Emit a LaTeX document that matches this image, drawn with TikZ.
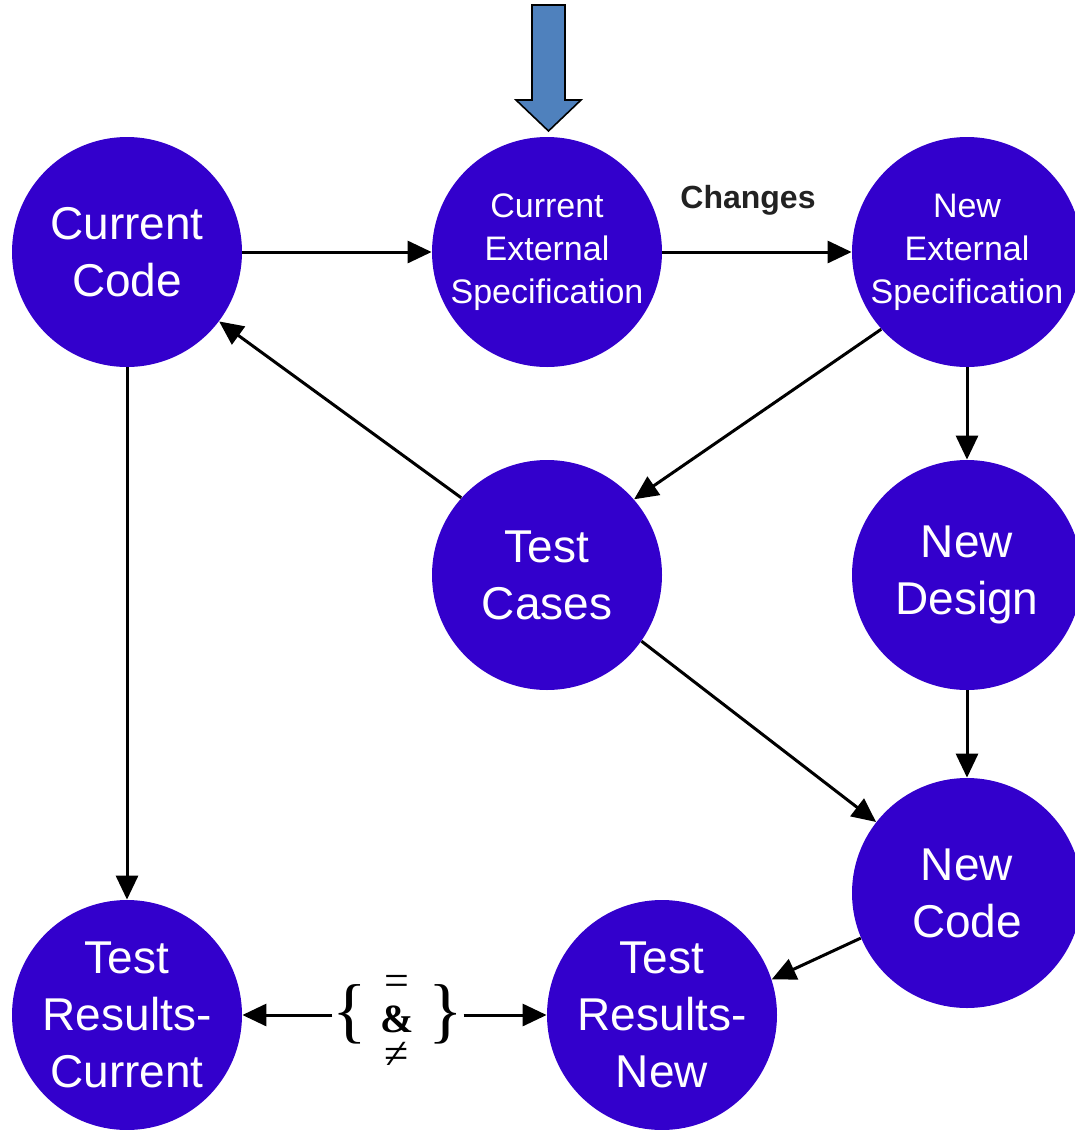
\documentclass[tikz,border=0pt]{standalone}
\usepackage{fontspec}
\setmainfont{Liberation Sans}
\newfontfamily\serifcmp{Liberation Serif}
\usetikzlibrary{arrows.meta}
\definecolor{circblue}{RGB}{51,0,204}
\definecolor{arrowblue}{RGB}{79,129,189}
\definecolor{labelgray}{RGB}{34,34,34}
\tikzset{
  bubble/.style={circle,fill=circblue,draw=none,inner sep=0pt,minimum size=115pt,
    text=white,align=center},
  bigtext/.style={font=\fontsize{23}{28.5}\selectfont},
  smalltext/.style={font=\fontsize{17}{21.5}\selectfont},
  conn/.style={line width=1.5pt,-{Triangle[length=12pt,width=11pt]}},
  bracenode/.style={inner sep=0pt,font=\serifcmp\fontsize{36}{36}\selectfont},
  symnode/.style={inner sep=0pt,font=\serifcmp\fontsize{22}{22}\selectfont},
}
\begin{document}
\begin{tikzpicture}[x=0.5pt,y=-0.5pt]
\useasboundingbox (0,0) rectangle (1075,1130);
\node[bubble,bigtext] (CC) at (127,252) {Current\\Code};
\node[bubble,smalltext] (CES) at (547,252) {Current\\External\\Specification};
\node[bubble,smalltext] (NES) at (967,252) {New\\External\\Specification};
\node[bubble,bigtext] (TC) at (547,575) {Test\\Cases};
\node[bubble,bigtext] (ND) at (967,575) {New\\Design};
\node[bubble,bigtext] (NC) at (967,893) {New\\Code};
\node[bubble,bigtext] (TRC) at (127,1015) {Test\\Results-\\Current};
\node[bubble,bigtext] (TRN) at (662,1015) {Test\\Results-\\New};
\node[text=labelgray,font=\fontsize{16}{19}\selectfont\bfseries] (chg) at (748,200) {Changes};
% comparison group
\node[bracenode] (lb) at (350,1014) {\{};
\node[bracenode] (rb) at (446,1014) {\}};
\node[symnode] (eq) at (397,985) {=};
\node[symnode,font=\serifcmp\fontsize{20}{20}\selectfont] (amp) at (397,1019) {\textbf{\&}};
\node[symnode] (ne) at (397,1055) {≠};
% blue input arrow
\coordinate (ba1) at (532,5);
\coordinate (ba2) at (565,5);
\coordinate (ba3) at (565,100);
\coordinate (ba4) at (581,100);
\coordinate (batip) at (548.5,131);
\coordinate (ba5) at (516,100);
\coordinate (ba6) at (532,100);
\draw[fill=arrowblue,draw=black,line width=0.8pt,line join=miter]
  (ba1) -- (ba2) -- (ba3) -- (ba4) -- (batip) -- (ba5) -- (ba6) -- cycle;
% connectors
\draw[conn] (CC) -- (CES);
\draw[conn] (CES) -- (NES);
\draw[conn] (NES.222) -- (TC.41);
\draw[conn] (NES) -- (ND);
\draw[conn] (TC.138) -- (CC.-37);
\draw[conn] (ND) -- (NC);
\draw[conn] (TC.-35) -- (NC.142);
\draw[conn] (CC) -- (TRC);
\draw[conn] (NC.203) -- (TRN.18);
\draw[conn] (lb.west |- TRC.east) -- (TRC.east);
\draw[conn] (rb.east |- TRN.west) -- (TRN.west);
\end{tikzpicture}
\end{document}
